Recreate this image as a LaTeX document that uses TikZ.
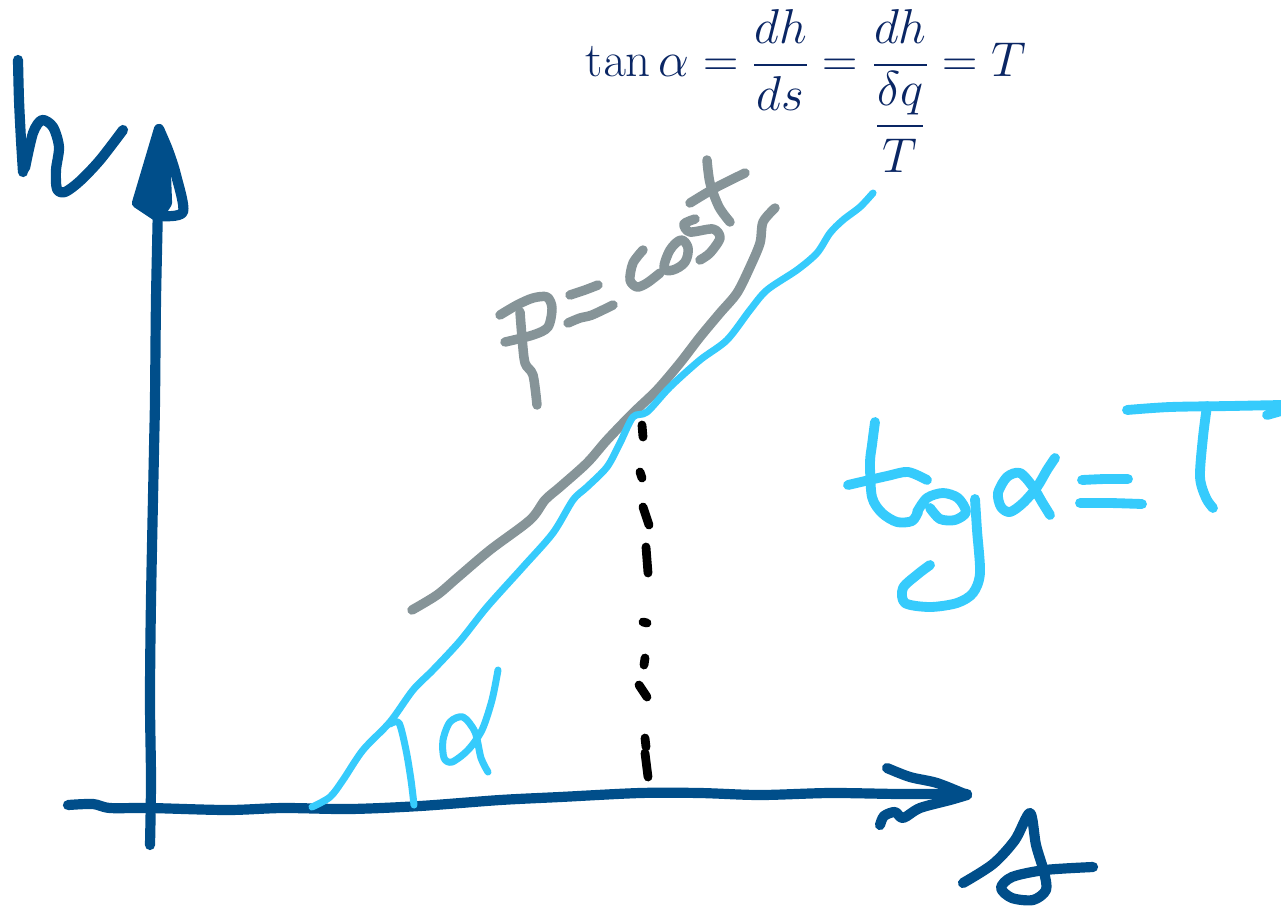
\documentclass[tikz,border=0pt]{standalone}
\usepackage{amsmath}
\definecolor{axisblue}{RGB}{0,78,138}
\definecolor{lightblue}{RGB}{54,203,252}
\definecolor{pgray}{RGB}{134,148,152}
\definecolor{navy}{RGB}{10,38,100}
\tikzset{
  axispen/.style={draw=axisblue,line width=5.8pt,line cap=round,line join=round},
  bluepen/.style={draw=lightblue,line width=4pt,line cap=round,line join=round},
  tgpen/.style={draw=lightblue,line width=5.6pt,line cap=round,line join=round},
  graypen/.style={draw=pgray,line width=5.4pt,line cap=round,line join=round},
  dotpen/.style={draw=black,line width=5pt,line cap=round,line join=round},
}
\begin{document}
\begin{tikzpicture}[x=0.02cm,y=-0.02cm]
\useasboundingbox (0,0) rectangle (1281,907);
% formula
\node[text=navy,inner sep=0pt] (formula) at (806,91)
  {\scalebox{1.12}{\fontsize{24.88}{30}\selectfont $\tan\alpha=\dfrac{dh}{ds}=\dfrac{dh}{\dfrac{\delta q}{T}}=T$}};
% vertical axis
\draw[axispen] plot[smooth,tension=0.5] coordinates {(150,845) (151,780) (150,700) (151,600) (154,450) (155,400) (156,300) (158,200) (158,140)};
\filldraw[axispen,fill=axisblue] (159,129) -- (137,203) -- (158,217) -- (167,203) -- (165,150) -- cycle;
\draw[axispen] plot[smooth,tension=0.5] coordinates {(159,129) (168,150) (176,175) (183,212) (160,216)};
% h
\draw[axispen] plot[smooth,tension=0.5] coordinates {(18,60) (19,100) (21,140) (23,172)};
\draw[axispen] plot[smooth,tension=0.5] coordinates {(25,168) (33,133) (42,120) (53,127) (59,147) (56,170) (57,189) (65,192) (80,181) (100,160) (123,130)};
% horizontal axis
\draw[axispen] plot[smooth,tension=0.5] coordinates {(68,805) (93,804) (110,808) (150,808) (227,810) (283,808) (350,809) (420,806) (500,800) (560,797) (640,793) (700,793) (760,795) (830,793) (900,794) (967,794)};
\draw[axispen] plot[smooth,tension=0.5] coordinates {(887,768) (910,777) (937,783) (967,795)};
\draw[axispen] plot[smooth,tension=0.5] coordinates {(880,825) (884,816) (895,812) (903,818) (920,808) (950,800) (967,795)};
% s
\draw[axispen] plot[smooth,tension=0.5] coordinates {(963,883) (993,864) (1015,840) (1030,813) (1036,845) (1044,872) (1046,890) (1033,900) (1012,898) (1001,888) (1012,877) (1045,870) (1093,867)};
% gray line
\draw[graypen] plot[smooth,tension=0.5] coordinates {(412,610) (437,595) (457,578) (490,550) (530,520) (545,500) (560,487) (587,463) (607,440) (633,413) (657,390) (680,363) (700,337) (720,313) (737,293) (750,267) (760,243) (763,222) (775,208)};
% blue line
\draw[bluepen] plot[smooth,tension=0.5] coordinates {(312,807) (330,797) (343,780) (363,750) (390,722) (413,690) (433,670) (460,641) (487,607) (523,567) (553,533) (573,500) (587,487) (607,467) (620,443) (633,417) (647,412) (670,387) (700,360) (727,340) (750,310) (767,290) (797,270) (817,253) (830,233) (843,220) (860,207) (873,193)};
% angle alpha
\draw[bluepen] plot[smooth,tension=0.5] coordinates {(390,724) (399,723) (406,750) (411,780) (414,805)};
\draw[bluepen] plot[smooth,tension=0.5] coordinates {(498,670) (492,700) (482,730) (468,750) (452,762) (444,758) (443,740) (450,722) (463,717) (475,732) (481,758) (488,772)};
% P = cost
\draw[graypen] plot[smooth,tension=0.5] coordinates {(520,312) (522,337) (525,363) (533,375) (537,405)};
\draw[graypen] plot[smooth,tension=0.5] coordinates {(500,315) (517,305) (533,298) (547,297) (552,308) (548,327) (533,335) (505,342)};
\draw[graypen] plot[smooth,tension=0.5] coordinates {(570,295) (585,290) (598,285)};
\draw[graypen] plot[smooth,tension=0.5] coordinates {(568,323) (580,318) (592,315) (613,305)};
\draw[graypen] plot[smooth,tension=0.5] coordinates {(643,250) (633,263) (630,280) (637,287) (647,283) (660,273)};
\draw[graypen] plot[smooth cycle,tension=0.6] coordinates {(670,250) (681,240) (688,248) (685,262) (673,270) (664,268)};
\draw[graypen] plot[smooth,tension=0.5] coordinates {(695,219) (684,224) (690,232) (713,229) (720,238) (710,253) (700,260)};
\draw[graypen] plot[smooth,tension=0.5] coordinates {(707,160) (710,183) (719,207) (730,222)};
\draw[graypen] plot[smooth,tension=0.5] coordinates {(690,203) (715,188) (745,173)};
% dotted vertical
\foreach \a/\b in {{(642,425)}/{(643,437)},{(640,472)}/{(642,478)},{(643,507)}/{(649,525)},{(646,547)}/{(648,573)},{(643,622)}/{(647,623)},{(645,658)}/{(644,665)},{(639,685)}/{(647,697)},{(645,738)}/{(646,747)},{(645,753)}/{(648,777)}}
  \draw[dotpen] \a -- \b;
% tg alpha = T
\draw[tgpen] plot[smooth,tension=0.5] coordinates {(875,422) (872,445) (870,463) (872,497) (882,513) (897,522) (912,521) (918,512)};
\draw[tgpen] plot[smooth,tension=0.5] coordinates {(848,485) (887,476) (908,472) (927,480)};
\draw[tgpen] plot[smooth,tension=0.5] coordinates {(917,512) (927,498) (943,493) (958,498) (966,512) (955,520) (940,519) (930,508)};
\draw[tgpen] plot[smooth,tension=0.5] coordinates {(975,499) (977,530) (980,573) (973,593) (957,603) (930,607) (905,603) (903,588) (918,574) (930,565)};
\draw[tgpen] plot[smooth,tension=0.5] coordinates {(1055,458) (1047,470) (1037,487) (1023,503) (1010,512) (1001,507) (998,493) (1007,477) (1020,473) (1033,487) (1042,502) (1050,515)};
\draw[tgpen] plot[smooth,tension=0.5] coordinates {(1082,480) (1105,479) (1128,479)};
\draw[tgpen] plot[smooth,tension=0.5] coordinates {(1080,503) (1110,503) (1142,504)};
\draw[tgpen] plot[smooth,tension=0.5] coordinates {(1127,410) (1170,407) (1230,406) (1281,405)};
\draw[tgpen] (1267,415) -- (1281,411);
\draw[tgpen] plot[smooth,tension=0.5] coordinates {(1207,406) (1203,437) (1200,477) (1206,498) (1213,508)};
\end{tikzpicture}
\end{document}
